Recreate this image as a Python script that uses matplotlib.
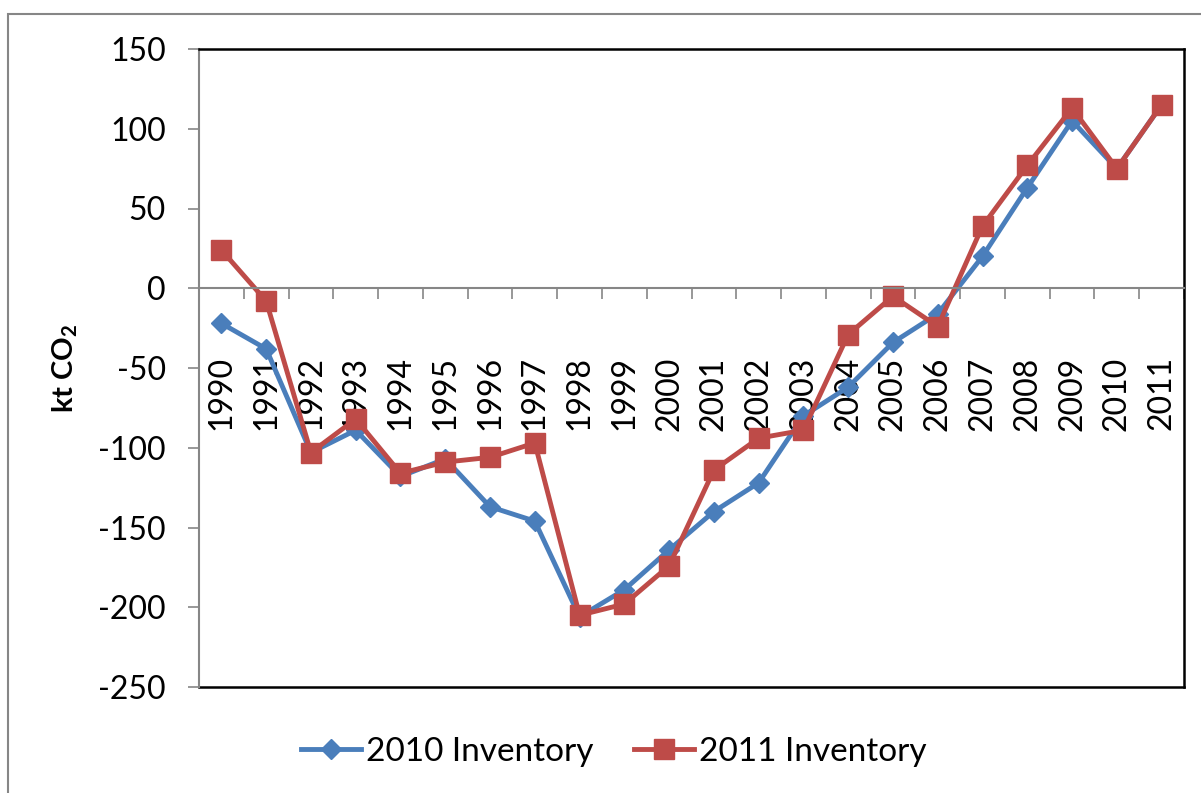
import numpy as np
import matplotlib
matplotlib.use('Agg')
import matplotlib.pyplot as plt
from matplotlib.patches import Rectangle

plt.rcParams['font.family'] = ['Lato', 'DejaVu Sans']
plt.rcParams['mathtext.fontset'] = 'custom'
plt.rcParams['mathtext.rm'] = 'Lato'
plt.rcParams['mathtext.bf'] = 'Lato:bold'
plt.rcParams['axes.unicode_minus'] = False

# data (kt CO2)
years = ['1990', '1991', '1992', '1993', '1994', '1995', '1996', '1997', '1998', '1999', '2000',
         '2001', '2002', '2003', '2004', '2005', '2006', '2007', '2008', '2009', '2010', '2011']
inv_2010 = [-22, -38, -103, -89, -118, -107, -137, -146, -206, -189, -164,
            -140, -122, -80, -62, -34, -16, 20, 63, 105, 75, 115]
inv_2011 = [24, -8, -103, -82, -116, -109, -106, -97, -205, -198, -174,
            -114, -94, -89, -29, -5, -24, 39, 77, 113, 75, 115]

blue = '#4A7EBB'
red = '#BE4B48'
gray = '#868686'

fig = plt.figure(figsize=(12.01, 7.93), dpi=100)
ax = fig.add_axes([199 / 1201, 1 - 687 / 793, 985 / 1201, 638 / 793])

x = np.arange(len(years))
ax.plot(x, inv_2010, color=blue, lw=3.5, marker='D', ms=10, label='2010 Inventory')
ax.plot(x, inv_2011, color=red, lw=3.5, marker='s', ms=14, label='2011 Inventory')

ax.set_xlim(-0.5, len(years) - 0.5)
ax.set_ylim(-250, 150)
ax.set_yticks(np.arange(-250, 151, 50))
ax.tick_params(axis='y', labelsize=23, length=8, width=1.2, color=gray, direction='out', pad=16)

# category axis crosses at zero, ticks between categories
ax.spines['bottom'].set_position(('data', 0))
ax.spines['bottom'].set_color(gray)
ax.spines['bottom'].set_linewidth(1.5)
ax.spines['left'].set_color(gray)
ax.spines['left'].set_linewidth(1.5)
for s in ['top', 'right']:
    ax.spines[s].set_color('black')
    ax.spines[s].set_linewidth(1.8)
ax.axhline(-250, color='black', lw=1.8, clip_on=False, zorder=0.5)

ax.set_xticks(np.arange(-0.5, len(years), 1.0))
ax.set_xticklabels([])
ax.set_xticks(x, minor=True)
ax.set_xticklabels(years, minor=True, rotation=90)
ax.tick_params(axis='x', which='major', length=8, width=1.2, color=gray, direction='out')
ax.tick_params(axis='x', which='minor', length=0, labelsize=23, pad=49)

fig.text(65 / 1201, 1 - 368 / 793, r'kt CO$_\mathbf{2}$', rotation=90, fontsize=21,
         fontweight='bold', ha='center', va='center')

fig.legend(loc='center', bbox_to_anchor=(614 / 1201, 1 - 752 / 793), ncol=2, frameon=False,
           fontsize=24, handlelength=1.8, handletextpad=0.15, columnspacing=1.2)

# chart area border
fig.patches.append(Rectangle((8 / 1201, -0.2), 2, 0.2 + 1 - 14 / 793, transform=fig.transFigure,
                             fill=False, edgecolor=gray, lw=1.5))

fig.savefig('out.png', dpi=100)
